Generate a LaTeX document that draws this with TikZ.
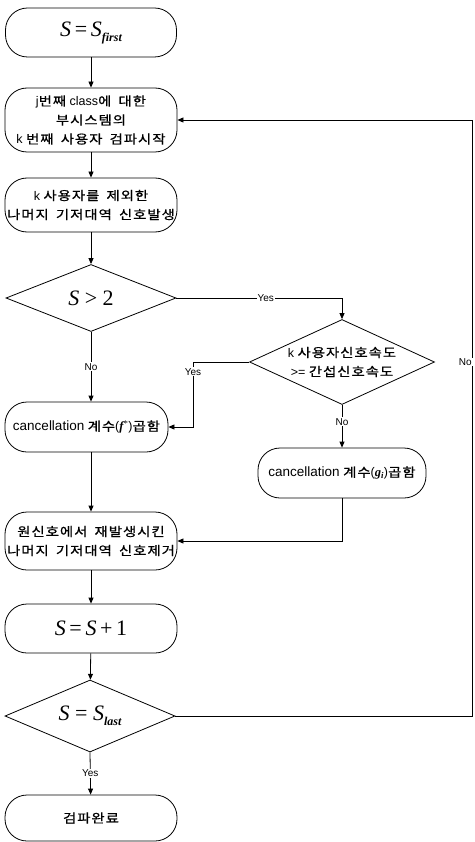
\documentclass[tikz,border=0pt]{standalone}
\usepackage{fontspec}
\setmainfont{Liberation Sans}
\newfontfamily\kr[FakeStretch=1.15,LetterSpace=8,WordSpace=1.7,FakeBold=0.8]{Noto Sans CJK KR}
\newfontfamily\tms{Liberation Serif}
\usetikzlibrary{shapes.geometric,arrows.meta}
\newcommand\K[1]{{\kr #1}}
\newcommand\bigS[1]{{\tms\fontsize{22}{24}\selectfont\itshape #1}}
\newcommand\subx[1]{\raisebox{-5pt}{\tms\fontsize{12}{12}\selectfont\bfseries\itshape #1}}
\newcommand\lat[1]{{\fontsize{13.5}{19}\selectfont #1}}
\begin{document}
\begin{tikzpicture}[x=1pt,y=-1pt,line width=0.8pt,
  term/.style={draw, rounded corners=22pt, inner sep=0pt, align=center,
    font=\fontsize{12.5}{19}\selectfont},
  dec/.style={draw, diamond, inner sep=0pt, aspect=2.5, align=center,
    font=\fontsize{12.5}{19}\selectfont},
  lab/.style={fill=white, inner sep=1pt, font=\fontsize{10}{10}\selectfont},
  arr/.style={-{Triangle[length=6pt,width=5pt]}}]
\useasboundingbox (0,0) rectangle (474,842);

\node[term, minimum width=171pt, minimum height=49pt] (b1) at (91,32.5)
  {\bigS{S\,{\upshape=}\,S}\subx{first}};
\node[term, minimum width=172pt, minimum height=64pt] (b2) at (91,120)
  {j\K{번째} class\K{에 대한}\\\K{부시스템의}\\k \K{번째 사용자 검파시작}};
\node[term, minimum width=172pt, minimum height=54pt] (b3) at (91,205)
  {k \K{사용자를 제외한}\\\K{나머지 기저대역 신호발생}};
\node[dec, minimum width=170pt, minimum height=67pt] (d1) at (91,298)
  {\bigS{S {\upshape >} {\upshape 2}}};
\node[dec, minimum width=185pt, minimum height=85pt] (d2) at (342,362)
  {k \K{사용자신호속도}\\>= \K{간섭신호속도}};
\node[term, minimum width=163pt, minimum height=50pt] (b4) at (86.5,427)
  {\lat{cancellation} \K{계수}({\tms\bfseries\itshape f}\textsuperscript{\tms *})\K{곱함}};
\node[term, minimum width=168pt, minimum height=50pt] (b5) at (342,473)
  {\lat{cancellation} \K{계수}({\tms\bfseries\itshape g\textsubscript{i}})\K{곱함}};
\node[term, minimum width=172pt, minimum height=58pt] (b6) at (91,541)
  {\K{원신호에서 재발생시킨}\\\K{나머지 기저대역 신호제거}};
\node[term, minimum width=172pt, minimum height=49pt] (b7) at (91,628.5)
  {\bigS{S\,{\upshape=}\,S\,{\upshape+}\,{\upshape 1}}};
\node[dec, minimum width=170pt, minimum height=72pt] (d3) at (90,716)
  {\bigS{S {\upshape =} S}\subx{last}};
\node[term, minimum width=172pt, minimum height=46pt] (b8) at (91,818)
  {\K{검파완료}};

\coordinate (c1) at (193,362);
\coordinate (r1) at (472,716);
\coordinate (r2) at (472,120);

\draw[arr] (b1) -- (b2);
\draw[arr] (b2) -- (b3);
\draw[arr] (b3) -- (d1);
\draw[arr] (d1.east) -| node[lab,pos=0.27]{Yes} (d2.north);
\draw[arr] (d1.south) -- node[lab]{No} (d1.south |- b4.north);
\draw[arr] (d2.west) -- (c1) -- node[lab,pos=0.15]{Yes} (c1 |- b4.east) -- (b4.east);
\draw[arr] (d2.south) -- node[lab,pos=0.4]{No} (b5.north);
\draw[arr] (b1 |- b4.south) -- (b6);
\draw[arr] (b5.south) |- (b6.east);
\draw[arr] (b6) -- (b7);
\draw[arr] (b7) -- (d3);
\draw[arr] (d3.south) -- node[lab]{Yes} (b8);
\draw[arr] (d3.east) -- (r1) -- (r2) -- (b2.east);
\node[lab, anchor=east, xshift=1pt] (nolab) at (r1 |- d2.center) {No};
\end{tikzpicture}
\end{document}
